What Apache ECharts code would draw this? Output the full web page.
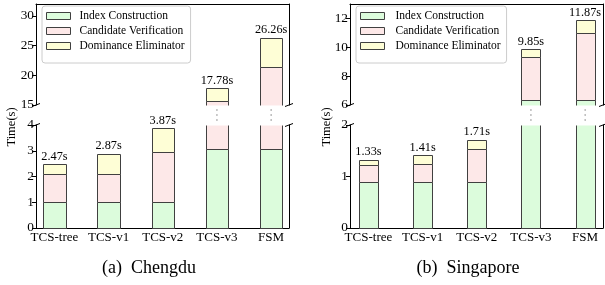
<!DOCTYPE html>
<html><head><meta charset="utf-8">
<script src="https://cdn.jsdelivr.net/npm/echarts@6/dist/echarts.min.js"></script>
<style>html,body{margin:0;padding:0;background:#fff}#c{width:605px;height:285px}</style>
</head><body><div id="c"></div>
<script>
// ---------- data ----------
const categories = ['TCS-tree', 'TCS-v1', 'TCS-v2', 'TCS-v3', 'FSM'];
const seriesNames = ['Index Construction', 'Candidate Verification', 'Dominance Eliminator'];

// Chengdu (seconds per component)
const chengduIndex = [1.00, 1.00, 1.00, 3.05, 3.05];
const chengduCandidate = [1.08, 1.08, 1.96, 12.62, 18.43];
const chengduDominance = [0.39, 0.79, 0.91, 2.11, 4.78];
const chengduTotalLabels = ['2.47s', '2.87s', '3.87s', '17.78s', '26.26s'];
const chengduUpperTicks = [15, 20, 25, 30];
const chengduLowerTicks = [0, 1, 2, 3, 4];

// Singapore (seconds per component)
const singaporeIndex = [0.90, 0.90, 0.90, 6.35, 6.32];
const singaporeCandidate = [0.33, 0.34, 0.64, 2.96, 4.65];
const singaporeDominance = [0.10, 0.17, 0.17, 0.54, 0.90];
const singaporeTotalLabels = ['1.33s', '1.41s', '1.71s', '9.85s', '11.87s'];
const singaporeUpperTicks = [6, 8, 10, 12];
const singaporeLowerTicks = [0, 1, 2];

// ---------- style ----------
const FONT = '"Liberation Serif", "Times New Roman", serif';
const EDGE = '#404040';
const COLORS = ['#dcfcdc', '#fde8e8', '#fefed6'];

const panels = [
  { left: 36, width: 253, barW: 0.41, upper: [15, 32], lower: [0, 4],
    upperTicks: chengduUpperTicks, lowerTicks: chengduLowerTicks,
    segs: [chengduIndex, chengduCandidate, chengduDominance], labels: chengduTotalLabels,
    legendLeft: 42, textPad: 4, ylabelX: 12, caption: '(a)  Chengdu', captionX: 149 },
  { left: 350, width: 253, barW: 0.35, upper: [6, 13], lower: [0, 2],
    upperTicks: singaporeUpperTicks, lowerTicks: singaporeLowerTicks,
    segs: [singaporeIndex, singaporeCandidate, singaporeDominance], labels: singaporeTotalLabels,
    legendLeft: 356, textPad: 6, ylabelX: 327, caption: '(b)  Singapore', captionX: 468 }
];
const UPPER_TOP = 4, UPPER_H = 101, LOWER_TOP = 125, LOWER_H = 103;
const XMIN = -0.34, XMAX = 4.33;

function barRenderer(range, barW, color) {
  return function (params, api) {
    const x = api.value(0), b = api.value(1), t = api.value(2);
    const lo = Math.max(b, range[0]), hi = Math.min(t, range[1]);
    if (!(hi > lo)) return null;
    const pb = api.coord([x, lo]), pt = api.coord([x, hi]);
    const w = api.size([barW, 0])[0];
    const x0 = Math.round(pb[0] - w / 2) + 0.5, x1 = Math.round(pb[0] + w / 2) + 0.5;
    const y0 = Math.round(pb[1]) + 0.5, y1 = Math.round(pt[1]) + 0.5;
    const st = { stroke: EDGE, lineWidth: 1 };
    const ch = [
      { type: 'rect', shape: { x: x0, y: y1, width: x1 - x0, height: y0 - y1 }, style: { fill: color } },
      { type: 'line', shape: { x1: x0, y1: y1, x2: x0, y2: y0 }, style: st },
      { type: 'line', shape: { x1: x1, y1: y1, x2: x1, y2: y0 }, style: st }
    ];
    if (b >= range[0]) ch.push({ type: 'line', shape: { x1: x0, y1: y0, x2: x1, y2: y0 }, style: st });
    if (t <= range[1]) ch.push({ type: 'line', shape: { x1: x0, y1: y1, x2: x1, y2: y1 }, style: st });
    return { type: 'group', children: ch };
  };
}

function labelRenderer(range, labels, isLower) {
  return function (params, api) {
    const x = api.value(0), tot = api.value(1);
    const ch = [];
    if (tot >= range[0] && tot <= range[1]) {
      const p = api.coord([x, tot]);
      ch.push({ type: 'text', x: p[0], y: p[1] - 2,
        style: { text: labels[params.dataIndex], align: 'center', verticalAlign: 'bottom',
                 font: '12.3px ' + FONT, fill: '#000' } });
    }
    if (isLower && tot > range[1]) {
      const p = api.coord([x, range[1]]);
      for (let k = 0; k < 3; k++) {
        ch.push({ type: 'circle', shape: { cx: p[0], cy: p[1] - 5 - 5 * k, r: 0.7 }, style: { fill: '#777' } });
      }
    }
    return { type: 'group', children: ch };
  };
}

const grid = [], xAxis = [], yAxis = [], series = [], legend = [], graphic = [];

panels.forEach((p) => {
  const bounds = [];
  let acc = categories.map(() => 0);
  p.segs.forEach((seg) => {
    const base = acc.slice();
    acc = acc.map((v, i) => v + seg[i]);
    bounds.push({ base, top: acc.slice() });
  });
  const totals = acc;

  [['upper', p.upper, p.upperTicks], ['lower', p.lower, p.lowerTicks]].forEach(([part, range, ticks]) => {
    const gi = grid.length;
    const isUpper = part === 'upper';
    grid.push({ left: p.left, width: p.width, top: isUpper ? UPPER_TOP : LOWER_TOP, height: isUpper ? UPPER_H : LOWER_H });
    xAxis.push({
      gridIndex: gi, type: 'value', min: XMIN, max: XMAX, position: isUpper ? 'top' : 'bottom',
      axisLine: { show: true, onZero: false, lineStyle: { color: '#000', width: 1 } },
      axisTick: { show: false }, splitLine: { show: false },
      axisLabel: isUpper ? { show: false } : {
        show: true, customValues: [0, 1, 2, 3, 4], formatter: (v) => categories[Math.round(v)],
        fontFamily: FONT, fontSize: 13, color: '#000', margin: 3
      }
    });
    const yi = yAxis.length;
    yAxis.push({
      gridIndex: gi, type: 'value', min: range[0], max: range[1], position: 'left',
      axisLine: { show: true, onZero: false, lineStyle: { color: '#000', width: 1 } },
      axisTick: { show: true, length: 4, customValues: ticks, lineStyle: { color: '#000' } },
      axisLabel: { show: true, customValues: ticks, fontFamily: FONT, fontSize: 13.3, color: '#000', margin: 2 },
      splitLine: { show: false }
    });
    yAxis.push({
      gridIndex: gi, type: 'value', min: range[0], max: range[1], position: 'right',
      axisLine: { show: true, onZero: false, lineStyle: { color: '#000', width: 1 } },
      axisTick: { show: false }, axisLabel: { show: false }, splitLine: { show: false }
    });
    bounds.forEach((bd, k) => {
      series.push({
        type: 'custom', name: seriesNames[k], xAxisIndex: gi, yAxisIndex: yi,
        itemStyle: { color: COLORS[k], borderColor: EDGE, borderWidth: 1 },
        encode: { x: 0, y: [1, 2] },
        data: categories.map((c, i) => [i, bd.base[i], bd.top[i]]),
        renderItem: barRenderer(range, p.barW, COLORS[k])
      });
    });
    series.push({
      type: 'custom', xAxisIndex: gi, yAxisIndex: yi, silent: true,
      encode: { x: 0, y: 1 },
      data: categories.map((c, i) => [i, totals[i]]),
      renderItem: labelRenderer(range, p.labels, !isUpper)
    });
  });

  legend.push({
    left: p.legendLeft, top: 6, orient: 'vertical', icon: 'rect',
    itemWidth: 24, itemHeight: 7, itemGap: 1,
    padding: [3, 6, 10, 4],
    borderColor: '#cccccc', borderWidth: 1, borderRadius: 3, backgroundColor: 'rgba(255,255,255,0.85)',
    textStyle: { fontFamily: FONT, fontSize: 11.5, color: '#000', lineHeight: 14, padding: [0, 0, 0, p.textPad] },
    selectedMode: false,
    data: seriesNames.map((n, k) => ({ name: n, itemStyle: { color: COLORS[k], borderColor: EDGE, borderWidth: 1 } }))
  });

  const upperBottom = UPPER_TOP + UPPER_H;
  [p.left, p.left + p.width].forEach((x) => {
    [upperBottom, LOWER_TOP].forEach((y) => {
      graphic.push({ type: 'line', shape: { x1: x - 4, y1: y + 1.5, x2: x + 4, y2: y - 1.5 },
        style: { stroke: '#000', lineWidth: 1 }, silent: true });
    });
  });
  graphic.push({ type: 'text', x: p.ylabelX, y: 127, rotation: Math.PI / 2,
    style: { text: 'Time(s)', font: '12.5px ' + FONT, fill: '#000', align: 'center', verticalAlign: 'middle' } });
  graphic.push({ type: 'text', x: p.captionX, y: 268,
    style: { text: p.caption, font: '18px ' + FONT, fill: '#000', align: 'center', verticalAlign: 'middle' } });
});

const chart = echarts.init(document.getElementById('c'), null, { renderer: 'canvas' });
chart.setOption({ animation: false, backgroundColor: '#fff', grid, xAxis, yAxis, series, legend, graphic });
</script>
</body></html>
